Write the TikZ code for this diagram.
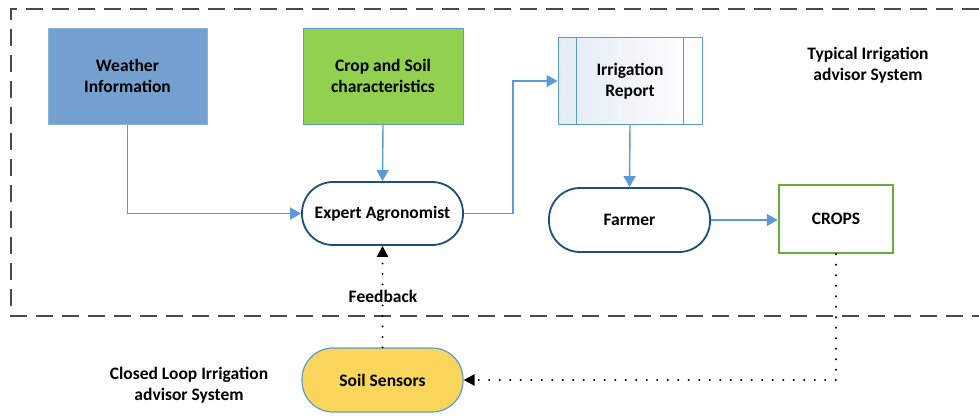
\documentclass[tikz,border=0pt]{standalone}
\usepackage{fontspec}
\setmainfont{Carlito}
\usetikzlibrary{arrows.meta}
\definecolor{wblue}{HTML}{74A0D0}
\definecolor{wborder}{HTML}{8DB3DF}
\definecolor{cgreen}{HTML}{92D050}
\definecolor{lblue}{HTML}{5B9BD5}
\definecolor{navy}{HTML}{1F4E79}
\definecolor{cropsgreen}{HTML}{6AAE3A}
\definecolor{soilyellow}{HTML}{FAD55C}
\definecolor{reportbg}{HTML}{E3EBF6}
\definecolor{framegray}{HTML}{4A4A4A}
\begin{document}
\begin{tikzpicture}[x=1pt,y=-1pt,
  font=\bfseries\fontsize{17.5}{21}\selectfont,
  box/.style={rectangle, align=center, inner sep=2pt},
  stadium/.style={rectangle, rounded corners=31pt, draw=navy, line width=1.8pt, fill=white,
     minimum width=161pt, minimum height=63pt, align=center},
  blconn/.style={draw=lblue, line width=1.4pt, -{Triangle[width=12pt,length=11pt]}},
  dotconn/.style={draw=black, line width=2.2pt, line cap=round, dash pattern=on 0pt off 10.5pt,
     -{Triangle[width=11pt,length=11pt]}},
  freetext/.style={align=center, inner sep=0pt}
]
\useasboundingbox (0,0) rectangle (979,415);
% dashed frame
\draw[framegray, line width=2.2pt, dash pattern=on 17pt off 9pt] (979,9) -- (11,9) -- (11,316) -- (979,316);

\node[box, fill=wblue, draw=wborder, line width=1pt, minimum width=159pt, minimum height=96pt] (weather) at (127.5,76) {Weather\\Information};
\node[box, fill=cgreen, draw=lblue, line width=1pt, minimum width=160pt, minimum height=96pt] (crop) at (383,76) {Crop and Soil\\characteristics};
\node[stadium] (expert) at (382.5,213.5) {Expert Agronomist};
\node[box, left color=reportbg, right color=white, draw=lblue, line width=1pt, minimum width=144pt, minimum height=87pt] (report) at (630,81) {Irrigation\\Report};
\draw[lblue, line width=1pt] ([xshift=19pt]report.north west) -- ([xshift=19pt]report.south west);
\draw[lblue, line width=1pt] ([xshift=-19pt]report.north east) -- ([xshift=-19pt]report.south east);
\node[stadium, minimum height=64pt] (farmer) at (629.5,220) {Farmer};
\node[box, draw=cropsgreen, line width=2.5pt, fill=white, minimum width=114pt, minimum height=68pt] (crops) at (836,219) {CROPS};
\node[stadium, fill=soilyellow, draw=lblue, line width=1.2pt, minimum height=64pt] (soil) at (382.5,380) {Soil Sensors};

\node[freetext] (typical) at (868,65) {Typical Irrigation\\advisor System};
\node[freetext] (closed) at (189,385) {Closed Loop Irrigation\\advisor System};

\draw[blconn] (weather.south) |- (expert.west);
\draw[blconn] (crop.south) -- (expert.north);
\draw[blconn] (expert.east) -- ++(49,0) |- (report.west);
\draw[blconn] (report.south) -- (farmer.north);
\draw[blconn] (farmer.east) -- (farmer.east -| crops.west);
\draw[dotconn] (crops.south) |- (soil.east);
\draw[dotconn] (soil.north) -- (expert.south);
\node[fill=white, inner sep=2pt] (feedback) at (383,296) {Feedback};
\end{tikzpicture}
\end{document}
